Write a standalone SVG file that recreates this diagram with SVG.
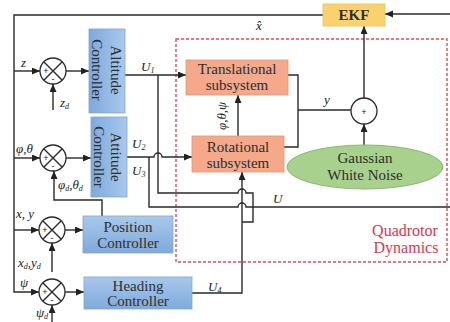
<svg xmlns="http://www.w3.org/2000/svg" width="450" height="322" viewBox="0 0 450 322">
<defs>
<linearGradient id="blue" x1="0" y1="0" x2="0" y2="1">
<stop offset="0" stop-color="#a9c8ec"/>
<stop offset="1" stop-color="#7eaadb"/>
</linearGradient>
<linearGradient id="blueV" x1="0" y1="0" x2="1" y2="0">
<stop offset="0" stop-color="#7eaadb"/>
<stop offset="1" stop-color="#a9c8ec"/>
</linearGradient>
<marker id="ah" markerWidth="9" markerHeight="8" refX="8" refY="3.5" orient="auto" markerUnits="userSpaceOnUse">
<path d="M0,0 L8,3.5 L0,7 z" fill="#222"/>
</marker>
<style>
.ln{fill:none;stroke:#2a2a2a;stroke-width:1.4}
.blk{fill:url(#blue);stroke:#7fa5d3;stroke-width:0.8}
.blkv{fill:url(#blueV);stroke:#7fa5d3;stroke-width:0.8}
.org{fill:#f5a98a;stroke:#e9926f;stroke-width:0.8}
.rt{font-family:'Liberation Serif','Times New Roman',serif;font-size:16px;fill:#e0354e;text-anchor:middle}
.bt{font-family:'Liberation Serif','Times New Roman',serif;font-size:15px;fill:#2e2e2e;text-anchor:middle}
.lb{font-family:'Liberation Serif','Times New Roman',serif;font-size:13px;font-style:italic;fill:#222}
.sub{font-size:8px}
.sum{fill:#fff;stroke:#2a2a2a;stroke-width:1.3}
.sg{font-family:'Liberation Sans',Arial,sans-serif;font-size:9px;fill:#222;text-anchor:middle}
</style>
</defs>
<rect width="450" height="322" fill="#fff"/>

<rect id="frame" x="176" y="39" width="271" height="223" fill="none" stroke="#e8475c" stroke-width="1.4" stroke-dasharray="3,2"/>
<text class="rt" x="405" y="236">Quadrotor</text>
<text class="rt" x="406" y="253">Dynamics</text>

<g id="connectors">
<path class="ln" d="M323,15 H14 V292 H39" marker-end="url(#ah)"/>
<path class="ln" d="M14,71 H40" marker-end="url(#ah)"/>
<path class="ln" d="M14,158 H40" marker-end="url(#ah)"/>
<path class="ln" d="M14,230 H39" marker-end="url(#ah)"/>
<path class="ln" d="M450,14 H385" marker-end="url(#ah)"/>
<path class="ln" d="M53,110 V84" marker-end="url(#ah)"/>
<path class="ln" d="M102,216 V200 H54 V171" marker-end="url(#ah)"/>
<path class="ln" d="M52,272 V243" marker-end="url(#ah)"/>
<path class="ln" d="M52,322 V305" marker-end="url(#ah)"/>
<path class="ln" d="M66,71 H89" marker-end="url(#ah)"/>
<path class="ln" d="M66,158 H91" marker-end="url(#ah)"/>
<path class="ln" d="M65,230 H83" marker-end="url(#ah)"/>
<path class="ln" d="M65,292 H84" marker-end="url(#ah)"/>
<path class="ln" d="M125,75 H186" marker-end="url(#ah)"/>
<path class="ln" d="M127,157 H154 a4,4 0 0 1 8,0 H192" marker-end="url(#ah)"/>
<path class="ln" d="M158,75 V193 H238 a4,4 0 0 1 8,0 H253 V222 H242"/>
<path class="ln" d="M149,157 V207 H238 a4,4 0 0 1 8,0 H450"/>
<path class="ln" d="M192,293 H242 V172" marker-end="url(#ah)"/>
<path class="ln" d="M238,136 V95" marker-end="url(#ah)"/>
<path class="ln" d="M288,75 H298 V147 H284"/>
<path class="ln" d="M298,110 H351"/>
<path class="ln" d="M364,98 V26" marker-end="url(#ah)"/>
<path class="ln" d="M364,145 V124" marker-end="url(#ah)"/>
</g>

<g id="labels">
<text class="lb" x="21" y="67">z</text>
<text class="lb" x="60" y="107">z<tspan class="sub" dy="2">d</tspan></text>
<text class="lb" x="16" y="153">φ,θ</text>
<text class="lb" x="58" y="189">φ<tspan class="sub" dy="2">d</tspan><tspan dy="-2">,θ</tspan><tspan class="sub" dy="2">d</tspan></text>
<text class="lb" x="16" y="218">x, y</text>
<text class="lb" x="18" y="267">x<tspan class="sub" dy="2">d</tspan><tspan dy="-2">,y</tspan><tspan class="sub" dy="2">d</tspan></text>
<text class="lb" x="20" y="287">ψ</text>
<text class="lb" x="36" y="317">ψ<tspan class="sub" dy="2">d</tspan></text>
<text class="lb" x="141" y="71">U<tspan class="sub" dy="2">1</tspan></text>
<text class="lb" x="132" y="148">U<tspan class="sub" dy="2">2</tspan></text>
<text class="lb" x="132" y="175">U<tspan class="sub" dy="2">3</tspan></text>
<text class="lb" x="208" y="291">U<tspan class="sub" dy="2">4</tspan></text>
<text class="lb" x="273" y="203">U</text>
<text class="lb" x="324" y="104">y</text>
<text class="lb" x="256" y="30">x̂</text>
<text class="lb" transform="translate(226,130) rotate(-90)">φ,θ,ψ</text>
</g>

<g id="sum1"><circle class="sum" cx="53" cy="71" r="13"/><path class="ln" d="M44,62 L62,80 M62,62 L44,80" stroke-width="1"/><text class="sg" x="46" y="74">+</text><text class="sg" x="53" y="82">-</text></g>
<g id="sum2"><circle class="sum" cx="53" cy="158" r="13"/><path class="ln" d="M44,149 L62,167 M62,149 L44,167" stroke-width="1"/><text class="sg" x="46" y="161">+</text><text class="sg" x="53" y="169">-</text></g>
<g id="sum3"><circle class="sum" cx="52" cy="230" r="13"/><path class="ln" d="M43,221 L61,239 M61,221 L43,239" stroke-width="1"/><text class="sg" x="45" y="233">+</text><text class="sg" x="52" y="241">-</text></g>
<g id="sum4"><circle class="sum" cx="52" cy="292" r="13"/><path class="ln" d="M43,283 L61,301 M61,283 L43,301" stroke-width="1"/><text class="sg" x="45" y="295">+</text><text class="sg" x="52" y="303">-</text></g>
<g id="sumy"><circle class="sum" cx="364" cy="111" r="13"/><text class="sg" x="364" y="115">+</text></g>

<g id="altitude">
<rect class="blkv" x="89" y="29" width="36" height="84"/>
<text class="bt" transform="translate(107,70) rotate(90)"><tspan x="0" y="-4">Altitude</tspan><tspan x="0" y="15">Controller</tspan></text>
</g>
<g id="attitude">
<rect class="blkv" x="91" y="117" width="36" height="80"/>
<text class="bt" transform="translate(108,157) rotate(90)"><tspan x="0" y="-3">Attitude</tspan><tspan x="0" y="14">Controller</tspan></text>
</g>
<g id="position">
<rect class="blk" x="83" y="216" width="90" height="37"/>
<text class="bt" x="128" y="232">Position</text>
<text class="bt" x="128" y="248">Controller</text>
</g>
<g id="heading">
<rect class="blk" x="84" y="277" width="108" height="32"/>
<text class="bt" x="138" y="291">Heading</text>
<text class="bt" x="138" y="306">Controller</text>
</g>
<g id="translational">
<rect class="org" x="186" y="60" width="102" height="35"/>
<text class="bt" x="237" y="74" font-size="14">Translational</text>
<text class="bt" x="237" y="90" font-size="14">subsystem</text>
</g>
<g id="rotational">
<rect class="org" x="192" y="136" width="92" height="36"/>
<text class="bt" x="238" y="152">Rotational</text>
<text class="bt" x="238" y="168">subsystem</text>
</g>
<g id="noise">
<ellipse cx="365" cy="167" rx="78" ry="22" fill="#a9d18e" stroke="#86b872" stroke-width="1"/>
<text class="bt" x="365" y="163" font-size="16">Gaussian</text>
<text class="bt" x="365" y="180" font-size="16">White Noise</text>
</g>
<g id="ekf">
<rect x="323" y="4" width="62" height="22" fill="#f9d26e" stroke="#efc057" stroke-width="0.8"/>
<text class="bt" x="354" y="20" font-weight="bold">EKF</text>
</g>
</svg>
